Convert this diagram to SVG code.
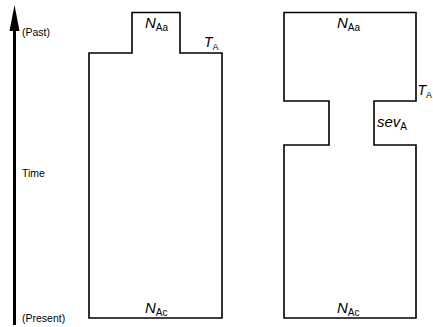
<svg xmlns="http://www.w3.org/2000/svg" width="433" height="327" viewBox="0 0 433 327">
<style>
.box{fill:none;stroke:#000;stroke-width:1.6;stroke-linejoin:miter}
.lbl{font-family:"Liberation Sans",Arial,sans-serif;font-size:10.5px;fill:#000}
.it{font-family:"Liberation Sans",Arial,sans-serif;font-size:15px;font-style:italic;fill:#000}
.it.t{font-size:14px}
.sub{font-size:10px;font-style:normal}
.t .sub{font-size:9px}
</style>
<rect width="433" height="327" fill="#fff"/>
<g id="connectors">
<line x1="14.5" y1="28" x2="14.5" y2="325" stroke="#000" stroke-width="3"/>
<polygon points="14.5,5 19.5,31 9.5,31" fill="#000"/>
</g>
<g id="axis-labels">
<text class="lbl" x="22" y="36">(Past)</text>
<text class="lbl" x="22" y="177">Time</text>
<text class="lbl" x="22" y="322">(Present)</text>
</g>
<g id="model-left">
<path class="box" d="M89,318 V53 H132 V12.5 H180 V53 H222 V318 Z"/>
<text class="it" x="145" y="28">N<tspan class="sub" dy="3">Aa</tspan></text>
<text class="it t" x="204" y="47">T<tspan class="sub" dy="3">A</tspan></text>
<text class="it" x="145" y="313">N<tspan class="sub" dy="3">Ac</tspan></text>
</g>
<g id="model-right">
<path class="box" d="M284,318 V145 H329 V101 H284 V12.5 H416 V101 H374 V145 H416 V318 Z"/>
<text class="it" x="337" y="28">N<tspan class="sub" dy="3">Aa</tspan></text>
<text class="it t" x="417.5" y="95">T<tspan class="sub" dy="3">A</tspan></text>
<text class="it" x="377" y="127">sev<tspan class="sub" dy="3">A</tspan></text>
<text class="it" x="337" y="313">N<tspan class="sub" dy="3">Ac</tspan></text>
</g>
</svg>
